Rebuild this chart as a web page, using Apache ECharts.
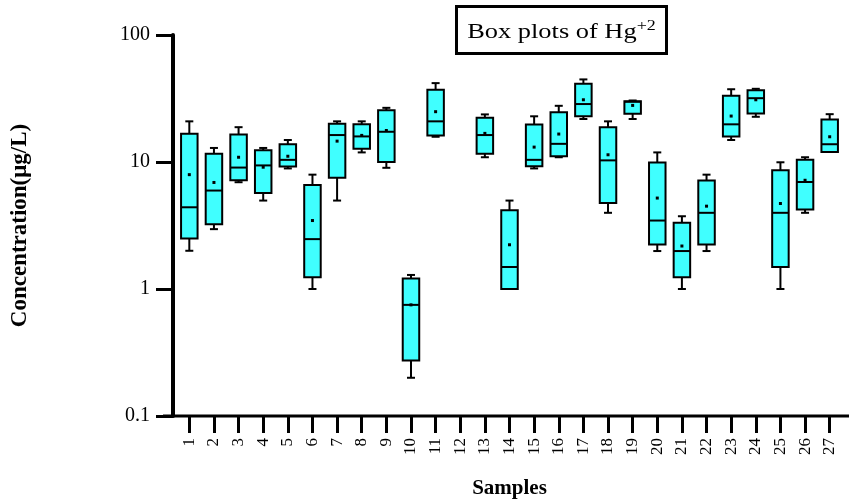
<!DOCTYPE html>
<html>
<head>
<meta charset="utf-8">
<script src="https://cdn.jsdelivr.net/npm/echarts@6/dist/echarts.min.js"></script>
<style>
  html, body { margin: 0; padding: 0; background: #fff; }
  #chart { width: 849px; height: 501px; }
</style>
</head>
<body>
<div id="chart"></div>
<script>
// samples 1..27 (sample 12 has no data)
const samples = ['1','2','3','4','5','6','7','8','9','10','11','12','13','14','15','16','17','18','19','20','21','22','23','24','25','26','27'];
const whiskerMin = [2.0, 2.96, 6.93, 4.97, 8.9, 1.0, 4.97, 11.9, 9.0, 0.2, 15.8, null, 10.9, 1.0, 8.9, 10.9, 21.8, 3.98, 21.8, 1.99, 1.0, 1.99, 14.9, 22.7, 1.0, 3.98, 12.0];
const q1 = [2.5, 3.24, 7.18, 5.7, 9.2, 1.24, 7.5, 12.7, 10.0, 0.273, 16.2, null, 11.6, 1.0, 9.25, 11.1, 22.9, 4.76, 24.0, 2.24, 1.24, 2.24, 15.9, 24.1, 1.49, 4.23, 12.0];
const median = [4.4, 5.96, 9.04, 9.4, 10.4, 2.47, 16.3, 15.9, 17.3, 0.75, 20.9, null, 16.3, 1.49, 10.4, 13.9, 28.6, 10.3, 29.8, 3.46, 1.99, 3.98, 19.8, 31.8, 3.98, 6.96, 13.8];
const q3 = [16.7, 11.6, 16.5, 12.4, 13.8, 6.6, 20.0, 19.8, 25.5, 1.21, 37.0, null, 22.3, 4.17, 19.7, 24.7, 41.3, 18.8, 30.1, 9.9, 3.32, 7.14, 33.2, 36.8, 8.6, 10.4, 21.6];
const whiskerMax = [20.9, 12.9, 18.8, 12.9, 14.9, 7.95, 20.9, 20.9, 26.7, 1.29, 41.8, null, 23.7, 4.97, 22.9, 27.7, 44.7, 20.9, 30.5, 11.9, 3.74, 7.95, 37.4, 37.7, 9.95, 10.9, 23.8];
const means = [7.95, 6.9, 10.9, 9.1, 11.1, 3.46, 14.6, 16.2, 17.7, 0.75, 24.9, null, 16.8, 2.23, 13.1, 16.6, 30.9, 11.4, 27.9, 5.2, 2.18, 4.49, 23.0, 30.9, 4.71, 7.18, 15.8];
const yTicks = [0.1, 1, 10, 100];

const boxData = [];
samples.forEach((s, i) => {
    if (median[i] == null) return;
    boxData.push([i, whiskerMin[i], q1[i], median[i], q3[i], whiskerMax[i], means[i]]);
});

const serif = 'Liberation Serif, Times New Roman, serif';
const chart = echarts.init(document.getElementById('chart'));

function renderBox(params, api) {
    const x = api.value(0);
    const band = api.size([1, 0])[0];
    const bw = band * 0.67;
    const cap = 8;
    const pMin = api.coord([x, api.value(1)]);
    const pQ1 = api.coord([x, api.value(2)]);
    const pMed = api.coord([x, api.value(3)]);
    const pQ3 = api.coord([x, api.value(4)]);
    const pMax = api.coord([x, api.value(5)]);
    const pMean = api.coord([x, api.value(6)]);
    const cx = pMed[0];
    const line = { stroke: '#000', lineWidth: 2 };
    return {
        type: 'group',
        children: [
            { type: 'line', shape: { x1: cx, y1: pMax[1], x2: cx, y2: pQ3[1] }, style: line },
            { type: 'line', shape: { x1: cx - cap / 2, y1: pMax[1], x2: cx + cap / 2, y2: pMax[1] }, style: line },
            { type: 'line', shape: { x1: cx, y1: pQ1[1], x2: cx, y2: pMin[1] }, style: line },
            { type: 'line', shape: { x1: cx - cap / 2, y1: pMin[1], x2: cx + cap / 2, y2: pMin[1] }, style: line },
            {
                type: 'rect',
                shape: { x: cx - bw / 2, y: pQ3[1], width: bw, height: pQ1[1] - pQ3[1] },
                style: { fill: '#40ffff', stroke: '#000', lineWidth: 2 }
            },
            { type: 'line', shape: { x1: cx - bw / 2, y1: pMed[1], x2: cx + bw / 2, y2: pMed[1] }, style: line },
            { type: 'rect', shape: { x: cx - 1.5, y: pMean[1] - 1.5, width: 3, height: 3 }, style: { fill: '#000' } }
        ]
    };
}

const option = {
    backgroundColor: '#fff',
    animation: false,
    grid: { left: 177, right: 7, top: 35, height: 381, outerBoundsMode: 'none' },
    graphic: [
        {
            type: 'line',
            shape: { x1: 163, y1: 416, x2: 849, y2: 416 },
            style: { stroke: '#000', lineWidth: 3 },
            z: 10
        },
        {
            type: 'group',
            left: 455,
            top: 5,
            children: [
                { type: 'rect', shape: { x: 0, y: 0, width: 210, height: 47 }, style: { fill: '#fff', stroke: '#000', lineWidth: 3 } },
                {
                    type: 'text',
                    x: 105,
                    y: 26,
                    scaleX: 1.2,
                    style: {
                        text: '{a|Box plots of Hg}{s|+2}',
                        align: 'center',
                        verticalAlign: 'middle',
                        rich: {
                            a: { fontFamily: serif, fontSize: 22, fill: '#000' },
                            s: { fontFamily: serif, fontSize: 15, fill: '#000', verticalAlign: 'top', padding: [0, 0, 12, 0] }
                        }
                    }
                }
            ]
        }
    ],
    xAxis: {
        type: 'category',
        data: samples,
        boundaryGap: true,
        name: 'Samples',
        nameLocation: 'middle',
        nameGap: 62,
        nameTextStyle: { fontFamily: serif, fontSize: 21, fontWeight: 'bold', color: '#000' },
        axisLine: { show: false },
        axisTick: { show: true, alignWithLabel: true, length: 17, lineStyle: { color: '#000', width: 3 } },
        axisLabel: { interval: 0, rotate: 90, margin: 22, fontFamily: serif, fontSize: 17, color: '#000' },
        splitLine: { show: false }
    },
    yAxis: {
        type: 'log',
        logBase: 10,
        min: 0.1,
        max: 100,
        offset: 4,
        name: 'Concentration(μg/L)',
        nameLocation: 'middle',
        nameGap: 141,
        nameTextStyle: { fontFamily: serif, fontSize: 23, fontWeight: 'bold', color: '#000' },
        axisLine: { show: true, lineStyle: { color: '#000', width: 4 } },
        axisTick: { show: true, length: 17, lineStyle: { color: '#000', width: 3 } },
        axisLabel: {
            margin: 23,
            fontFamily: serif,
            fontSize: 20,
            color: '#000',
            formatter: v => {
                const hit = yTicks.find(t => Math.abs(t - v) / t < 1e-6);
                return hit == null ? '' : String(hit);
            }
        },
        splitLine: { show: false },
        minorTick: { show: false }
    },
    series: [{
        type: 'custom',
        renderItem: renderBox,
        data: boxData,
        encode: { x: 0, y: [1, 2, 3, 4, 5] },
        clip: false
    }]
};
chart.setOption(option);
</script>
</body>
</html>
